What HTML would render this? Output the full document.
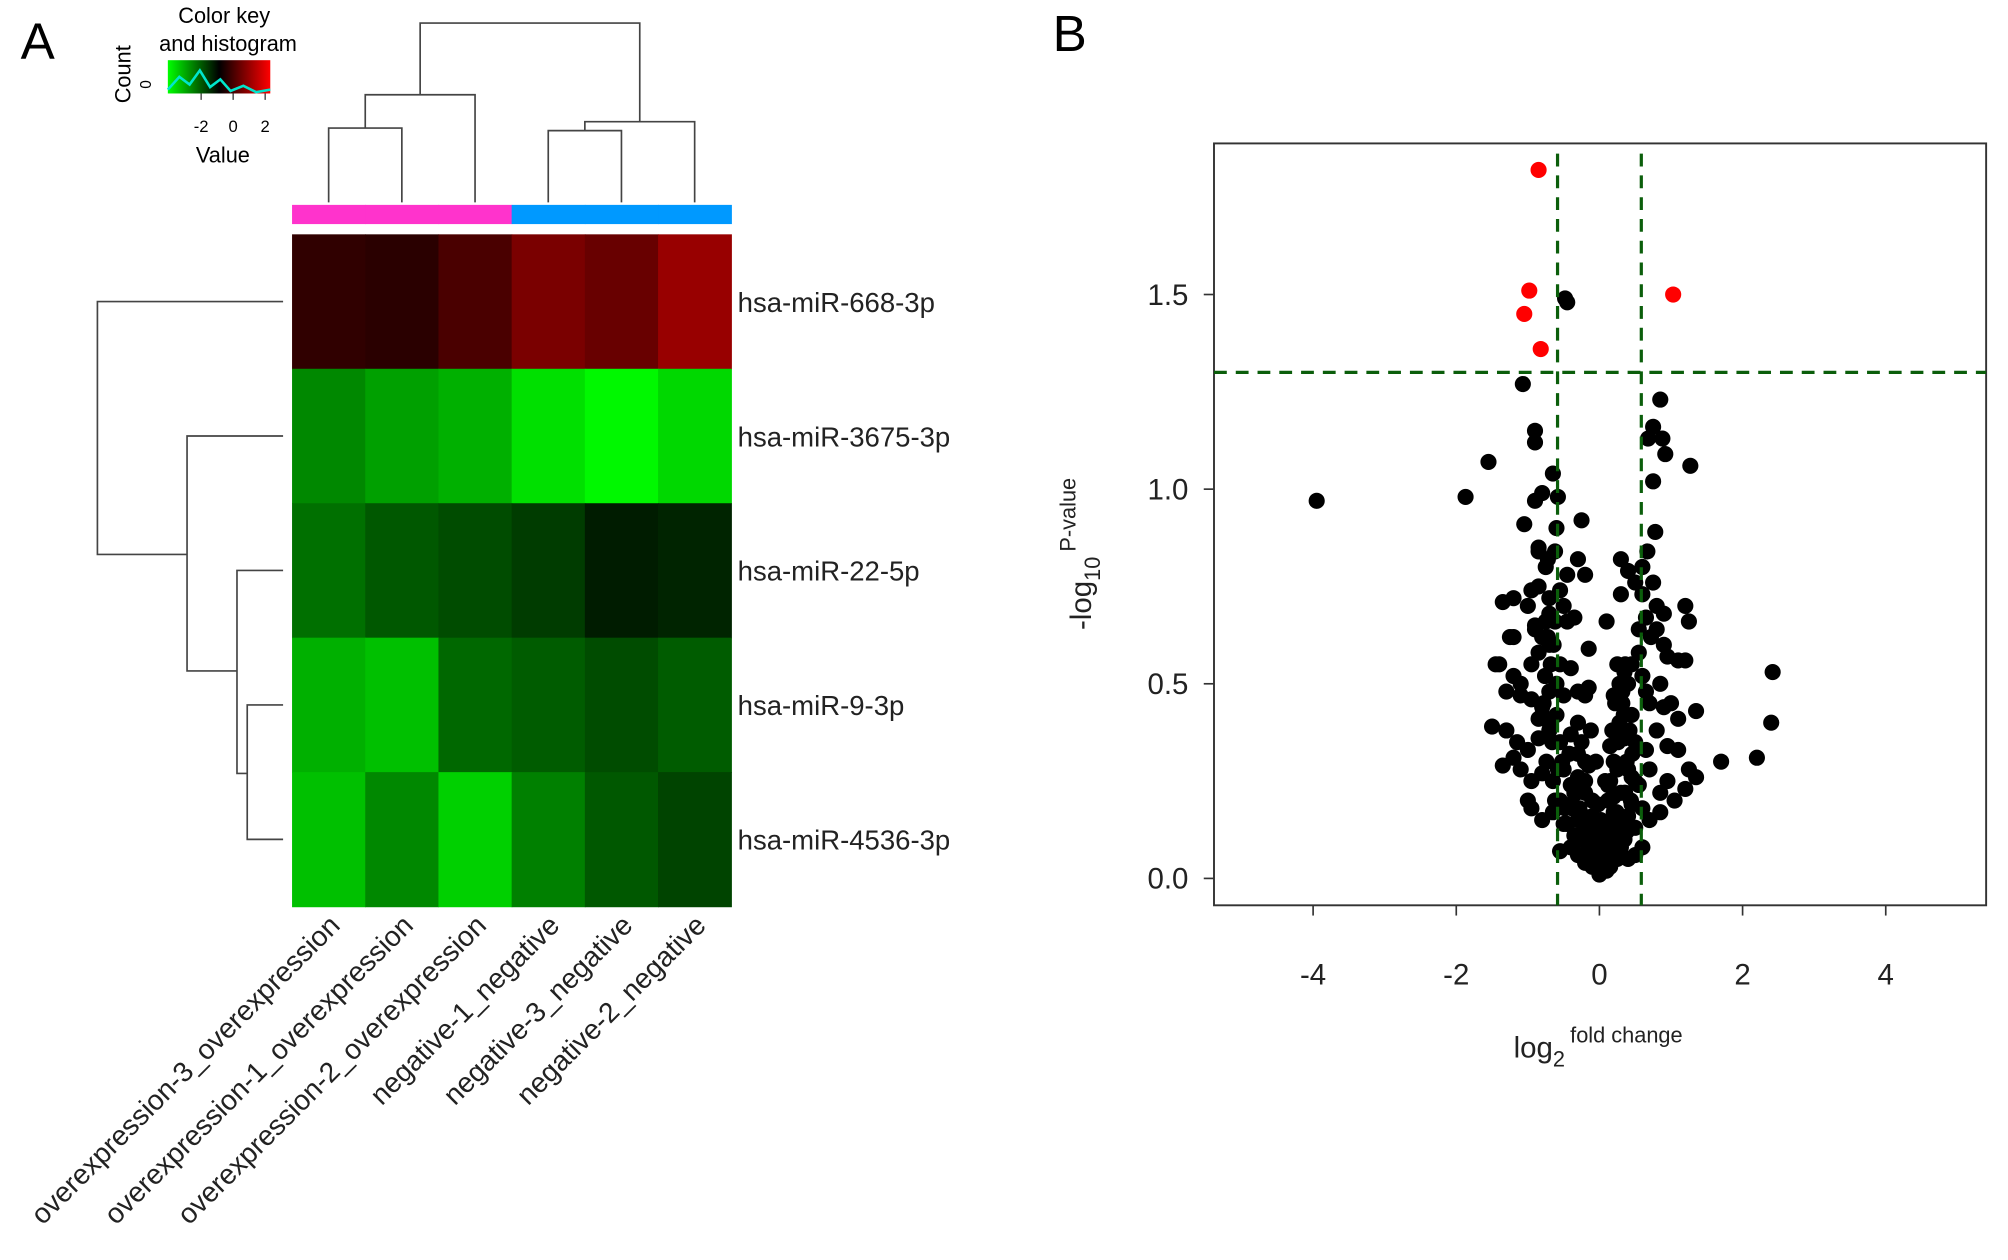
<!DOCTYPE html>
<html><head><meta charset="utf-8">
<style>
html,body{margin:0;padding:0;background:#fff;}
svg{display:block;font-family:"Liberation Sans",Arial,sans-serif;}
</style></head>
<body>
<svg id="fig" width="2008" height="1260" viewBox="0 0 1568 984" xmlns="http://www.w3.org/2000/svg">
<rect x="0" y="0" width="1568" height="984" fill="#fff"/>
<text x="16" y="46" font-size="40">A</text>
<text x="822" y="40" font-size="40">B</text>
<g id="heat"></g>
<g id="volc"></g>
</svg>
<script>
const NS="http://www.w3.org/2000/svg";
const rowNames=["hsa-miR-668-3p","hsa-miR-3675-3p","hsa-miR-22-5p","hsa-miR-9-3p","hsa-miR-4536-3p"];
const colNames=["overexpression-3_overexpression","overexpression-1_overexpression","overexpression-2_overexpression","negative-1_negative","negative-3_negative","negative-2_negative"];
const groupColors=["#ff33cc","#ff33cc","#ff33cc","#0099ff","#0099ff","#0099ff"];
const heatValues=[
 [0.56,0.49,0.87,1.43,1.22,1.79],
 [-1.6,-1.88,-2.07,-2.64,-2.92,-2.54],
 [-1.32,-1.04,-0.89,-0.71,-0.33,-0.42],
 [-2.07,-2.26,-1.22,-1.08,-0.89,-1.08],
 [-2.26,-1.6,-2.45,-1.5,-1.04,-0.8]
];
const fcValues=[-0.85,-0.98,-1.05,-0.82,1.03,
-3.95,-1.87,-1.55,-1.07,-0.48,-0.45,0.85,0.75,0.68,0.88,0.92,1.27,0.75,-0.9,-0.9,-0.65,-0.58,-0.9,-0.8,-1.05,-0.25,-0.85,0.78,2.42,2.4,2.2,1.7,1.35,1.25,1.2,-1.35,-1.5,-1.4,-1.2,
-0.85,-0.75,-0.62,-0.3,-0.2,0.3,0.4,0.5,0.6,0.67,
-1.2,-0.95,-0.85,-0.7,-0.55,-0.5,-0.7,0.3,0.6,0.75,0.8,0.9,-0.45,
-1.25,-0.9,-0.8,-0.75,-0.62,-0.45,-0.35,0.1,0.55,0.65,0.8,
-1.45,-1.2,-1.1,-0.95,-0.85,-0.7,-0.55,-0.4,-0.15,0.25,0.35,0.45,0.6,0.9,0.95,1.1,1.2,0.4,
-1.3,-1.1,-0.95,-0.8,-0.7,-0.5,-0.3,-0.2,-0.15,0.2,0.3,0.45,0.7,0.9,1.0,1.1,-0.6,-0.85,
-1.3,-1.15,-1.0,-0.85,-0.7,-0.55,-0.4,-0.3,-0.2,0.15,0.25,0.35,0.5,0.65,0.8,0.95,1.1,1.25,1.35,-1.2,-0.05,
-1.35,-1.1,-0.95,-0.8,-0.65,-0.5,-0.4,-0.3,-0.2,0.15,0.25,0.35,0.45,0.55,0.7,0.85,0.95,1.05,1.2,-1.0,-0.15,
-0.95,-0.8,-0.65,-0.5,-0.4,-0.3,-0.2,-0.1,0.1,0.2,0.3,0.4,0.5,0.6,0.7,0.85,0.45,-0.55,
-0.4,-0.3,-0.25,-0.2,-0.15,-0.1,-0.05,0,0.05,0.1,0.15,0.2,0.25,0.3,0.35,-0.35,0.4,0.05,-0.05,0.6,-0.55,0.5,
-0.2,-0.25,0.12,0.2,0.28,0.22,-0.3,-0.1,0.08,-0.12,0.18,
-0.72,-0.68,-0.78,-0.6,-0.66,-0.74,-0.62,-0.7,-0.58,-0.64,-0.76,-0.8,-0.52,-0.48,
0.32,0.38,0.28,0.42,0.36,0.3,0.34,0.4,0.26,0.44,0.38,0.32,0.46,0.5,
-0.45,-0.38,-0.32,-0.28,-0.22,-0.18,-0.12,-0.08,0.02,0.08,0.14,0.18,0.22,0.26,
-0.35,-0.28,-0.18,-0.1,0.0,0.1,0.16,0.24,0.3,-0.22,0.04,-0.02,0.12,0.2,
-0.9,-1.0,-0.72,-0.6,0.55,0.65,0.72,0.85,-0.42,0.36];
const pValues=[1.82,1.51,1.45,1.36,1.50,
0.97,0.98,1.07,1.27,1.49,1.48,1.23,1.16,1.13,1.13,1.09,1.06,1.02,1.15,1.12,1.04,0.98,0.97,0.99,0.91,0.92,0.85,0.89,0.53,0.40,0.31,0.30,0.43,0.66,0.70,0.71,0.39,0.55,0.62,
0.84,0.8,0.84,0.82,0.78,0.82,0.79,0.76,0.8,0.84,
0.72,0.74,0.75,0.72,0.74,0.7,0.68,0.73,0.73,0.76,0.7,0.68,0.78,
0.62,0.65,0.62,0.66,0.66,0.66,0.67,0.66,0.64,0.67,0.64,
0.55,0.52,0.5,0.55,0.58,0.6,0.55,0.54,0.59,0.55,0.53,0.55,0.52,0.6,0.57,0.56,0.56,0.5,
0.48,0.47,0.46,0.44,0.48,0.47,0.48,0.47,0.49,0.47,0.45,0.42,0.45,0.44,0.45,0.41,0.42,0.41,
0.38,0.35,0.33,0.36,0.38,0.35,0.37,0.32,0.3,0.34,0.38,0.36,0.35,0.33,0.38,0.34,0.33,0.28,0.26,0.31,0.3,
0.29,0.28,0.25,0.27,0.25,0.28,0.24,0.26,0.22,0.25,0.28,0.22,0.26,0.24,0.28,0.22,0.25,0.2,0.23,0.2,0.29,
0.18,0.15,0.17,0.14,0.19,0.15,0.12,0.16,0.14,0.17,0.12,0.16,0.13,0.18,0.15,0.17,0.19,0.2,
0.08,0.06,0.1,0.04,0.08,0.03,0.06,0.01,0.04,0.07,0.03,0.09,0.05,0.08,0.1,0.11,0.05,0.1,0.12,0.08,0.07,0.06,
0.25,0.35,0.2,0.3,0.4,0.45,0.4,0.2,0.25,0.38,0.38,
0.62,0.55,0.45,0.5,0.35,0.3,0.2,0.4,0.28,0.6,0.52,0.42,0.3,0.18,
0.45,0.3,0.5,0.38,0.22,0.15,0.42,0.28,0.35,0.2,0.12,0.48,0.32,0.25,
0.14,0.18,0.22,0.1,0.14,0.05,0.09,0.13,0.15,0.12,0.2,0.15,0.1,0.13,
0.22,0.18,0.06,0.09,0.08,0.02,0.12,0.17,0.22,0.16,0.14,0.19,0.24,0.21,
0.64,0.7,0.82,0.9,0.58,0.48,0.62,0.5,0.32,0.55];
const redCount=5;
const xTicks=[-4,-2,0,2,4];
const yTicks=[0.0,0.5,1.0,1.5];
const yTickLabels=["0.0","0.5","1.0","1.5"];
const pThreshold=1.3, fcThreshold=0.585;

function mk(tag,attrs,parent,text){const e=document.createElementNS(NS,tag);for(const k in attrs)e.setAttribute(k,attrs[k]);if(text!==undefined)e.textContent=text;parent.appendChild(e);return e;}

const H=document.getElementById('heat');
const hx0=228,hy0=183,cw=(571-228)/6,rh=(708-183)/5;
function heatColor(v){const c=Math.round(Math.min(1,Math.abs(v)/3)*255);return v>=0?`rgb(${c},0,0)`:`rgb(0,${c},0)`;}
heatValues.forEach((row,i)=>row.forEach((v,j)=>{
 const r=mk('rect',{x:hx0+j*cw,y:hy0+i*rh,width:cw+0.5,height:rh+0.5,fill:heatColor(v)},H);
 
 
}));
groupColors.forEach((c,j)=>{const r=mk('rect',{x:hx0+j*cw,y:160,width:cw+0.5,height:15,fill:c},H);
 
 });
rowNames.forEach((n,i)=>{const t=mk('text',{x:576,y:hy0+(i+0.5)*rh+8,'font-size':21.5,fill:'#222'},H,n);
 
 });
colNames.forEach((n,j)=>{const cx=hx0+(j+0.5)*cw+10,cy=724;
 const t=mk('text',{x:cx,y:cy,'font-size':22,fill:'#222','text-anchor':'end',transform:`rotate(-45 ${cx} ${cy})`},H,n);
 
 });
const dg=mk('g',{stroke:'#444','stroke-width':1.3,fill:'none'},H);


const cx=j=>hx0+(j+0.5)*cw, ry=i=>hy0+(i+0.5)*rh;
const topPaths=[
 `M${cx(0)} 158V100H${cx(1)}V158`,`M${(cx(0)+cx(1))/2} 100V74H${cx(2)}V158`,
 `M${cx(3)} 158V102H${cx(4)}V158`,`M${(cx(3)+cx(4))/2} 102V95H${cx(5)}V158`,
 `M${(cx(0)+cx(1))/2*0.5+cx(2)*0.5} 74V18H${((cx(3)+cx(4))/2+cx(5))/2}V95`,
 `M221 ${ry(0)}H76V433H146`,`M221 ${ry(1)}H146V524H185`,`M221 ${ry(2)}H185V604H193`,`M221 ${ry(3)}H193V${ry(4)}H221`];
topPaths.forEach(d=>mk('path',{d},dg));
const K=mk('g',{},H);


const grad=mk('linearGradient',{id:'kg'},mk('defs',{},K));
[['0','#00ff00'],['0.5','#000'],['1','#ff0000']].forEach(s=>mk('stop',{offset:s[0],'stop-color':s[1]},grad));
mk('rect',{x:131,y:47,width:80,height:26,fill:'url(#kg)'},K);
mk('polyline',{points:'131,70 140,60 148,66 156,55 164,68 172,62 180,71 190,67 200,72 211,70',stroke:'#00e5cc','stroke-width':2,fill:'none'},K);
[[-2,157],[0,182],[2,207]].forEach(a=>{mk('line',{x1:a[1],y1:73,x2:a[1],y2:78,stroke:'#333'},K);mk('text',{x:a[1],y:103,'font-size':13,'text-anchor':'middle'},K,String(a[0]));});
mk('text',{x:175,y:18,'font-size':17,'text-anchor':'middle'},K,'Color key');
mk('text',{x:178,y:40,'font-size':17,'text-anchor':'middle'},K,'and histogram');
mk('text',{x:174,y:127,'font-size':17,'text-anchor':'middle'},K,'Value');
mk('text',{x:102,y:58,'font-size':17,'text-anchor':'middle',transform:'rotate(-90 102 58)'},K,'Count');
mk('text',{x:118,y:66,'font-size':12,'text-anchor':'middle',transform:'rotate(-90 118 66)'},K,'0');

const V=document.getElementById('volc');
const px0=948,px1=1551,py0=112,py1=707;
const sx=v=>1249+v*55.9, sy=v=>686-v*304;
const box=mk('rect',{x:px0,y:py0,width:px1-px0,height:py1-py0,fill:'none',stroke:'#333','stroke-width':1.5},V);


xTicks.forEach(t=>{mk('line',{x1:sx(t),y1:py1,x2:sx(t),y2:py1+8,stroke:'#333','stroke-width':1.3},V);
 const l=mk('text',{x:sx(t),y:769,'font-size':23,'text-anchor':'middle',fill:'#222'},V,String(t));
 
 });
yTicks.forEach((t,i)=>{mk('line',{x1:px0-8,y1:sy(t),x2:px0,y2:sy(t),stroke:'#333','stroke-width':1.3},V);
 const l=mk('text',{x:928,y:sy(t)+8,'font-size':23,'text-anchor':'end',fill:'#222'},V,yTickLabels[i]);
 
 });
const dots=mk('g',{},V);


for(let i=fcValues.length-1;i>=0;i--){
 const c=mk('circle',{cx:sx(fcValues[i]),cy:sy(pValues[i]),r:6.3,fill:i<redCount?'#ff0000':'#000'},dots);
 
 
}
const thr=mk('g',{stroke:'#0b5e0b','stroke-width':2.5,'stroke-dasharray':'10,7'},V);


mk('line',{x1:px0,y1:sy(pThreshold),x2:px1,y2:sy(pThreshold)},thr);
mk('line',{x1:sx(-fcThreshold),y1:py0+8,x2:sx(-fcThreshold),y2:py1},thr);
mk('line',{x1:sx(fcThreshold),y1:py0+8,x2:sx(fcThreshold),y2:py1},thr);
const xt=mk('text',{x:1182,y:826,'font-size':23,fill:'#222'},V);


xt.innerHTML='log<tspan font-size="17" dy="7">2</tspan><tspan font-size="17" dy="-19" dx="4">fold change</tspan>';
const yt=mk('text',{x:0,y:0,'font-size':23,fill:'#222',transform:'translate(852 492) rotate(-90)'},V);


yt.innerHTML='-log<tspan font-size="17" dy="7">10</tspan><tspan font-size="17" dy="-19" dx="4">P-value</tspan>';
</script>
</body></html>
